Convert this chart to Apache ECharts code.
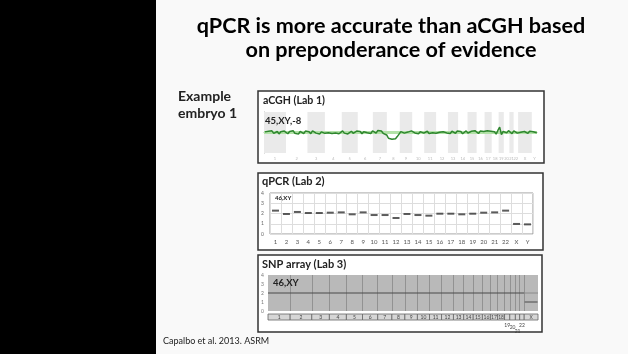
<!DOCTYPE html>
<html><head><meta charset="utf-8">
<script src="https://cdn.jsdelivr.net/npm/echarts@6/dist/echarts.min.js"></script>
<style>html,body{margin:0;padding:0;background:#f9f9f9}#c{width:628px;height:354px}</style>
</head><body><div id="c"></div>
<script>
// ---- data ----
const chrNames = ['1','2','3','4','5','6','7','8','9','10','11','12','13','14','15','16','17','18','19','20','21','22','X','Y'];
const chrSizes = [249,243,198,191,181,171,159,146,141,136,135,134,115,107,103,90,81,78,59,63,48,51,155,59];
const acghStep = 20; // Mb between aCGH probes shown
const acghValues = [
 0.03,-0.05,0.06,-0.02,0.08,-0.04,0.01,0.05,-0.07,0.04,
 -0.03,0.07,0.02,-0.06,0.05,-0.01,0.09,-0.04,0.03,-0.08,
 0.05,0.01,-0.05,0.07,-0.02,0.04,-0.06,0.08,0.02,-0.03,
 0.06,-0.07,0.03,0.05,-0.04,0.02,-0.01,0.07,-0.05,0.04,
 -0.02,0.06,-0.06,0.03,0.08,-0.03,0.05,-0.07,0.02,0.06,
 -0.04,0.03,0.07,-0.02,0.05,-0.06,0.04,0.09,-0.01,0.06,
 -0.05,0.08,0.03,-0.03,0.1,0.02,0.07,-0.04,0.05,
 -0.12,-0.28,-0.22,-0.33,-0.25,-0.3,-0.2,-0.14,
 0.04,0.07,-0.03,0.06,0.02,-0.05,0.08,0.03,-0.02,0.05,
 -0.06,0.04,0.07,-0.03,0.02,0.06,-0.05,0.03,-0.01,0.07,
 -0.04,0.05,0.01,-0.06,0.04,0.08,-0.02,0.03,-0.05,0.06,
 0.02,-0.04,0.07,-0.01,0.05,-0.06,0.03,0.08,-0.03,0.04,
 0.06,-0.02,0.09,0.03,-0.05,0.07,0.01,0.05,-0.04,0.08,
 0.02,0.06,-0.03,0.04,-0.08,0.1,0.26,-0.1,0.05,0.07,
 -0.02,0.09,0.03,-0.06,0.08,0.04,-0.03,0.06,0.01,-0.05,
 0.05,0.02,-0.04,0.06,-0.02,0.04,0.03,-0.01
];
const qpcrCategories = ['1','2','3','4','5','6','7','8','9','10','11','12','13','14','15','16','17','18','19','20','21','22','X','Y'];
const qpcrValues = [2.28,1.95,2.15,2.05,2.05,2.08,2.11,1.92,2.11,1.85,1.85,1.56,1.95,1.85,1.79,1.98,1.98,1.92,1.98,2.08,2.11,2.28,0.98,0.94];
const snpAutosomeCopy = 2;
const snpXCopy = 1;
const yTicks = ['0','1','2','3','4'];

// ---- derived ----
const starts = []; let acc = 0;
chrSizes.forEach(s => { starts.push(acc); acc += s; });
const genomeAll = acc;
const genomeNoY = genomeAll - chrSizes[23];
const acghData = acghValues.map((v, i) => [i * acghStep + 10, v]);
const bandAreas = [];
chrSizes.forEach((s, i) => { if (i % 2 === 0) bandAreas.push([{xAxis: starts[i]}, {xAxis: starts[i] + s}]); });
const acghTickData = chrNames.map((n, i) => [starts[i] + chrSizes[i] / 2, -1, n]);
const snpBounds = starts.slice(1, 23).map(x => ({xAxis: x}));
const snpBarAreas = chrNames.slice(0, 23).map((n, i) => {
  const lab = {show: true, position: 'inside', fontSize: 5, color: '#444', fontFamily: 'Lato'};
  if (i >= 18 && i <= 21) { lab.position = 'bottom'; lab.distance = [2, 4, 8, 2][i - 18]; }
  return [{xAxis: starts[i], name: n, label: lab}, {xAxis: starts[i] + chrSizes[i]}];
});

const chart = echarts.init(document.getElementById('c'), null, {renderer: 'canvas'});
const F = 'Lato';
chart.setOption({
  animation: false,
  backgroundColor: '#f9f9f9',
  graphic: [
    {type: 'rect', z: -20, shape: {x: 0, y: 0, width: 156, height: 354}, style: {fill: '#000'}},
    {type: 'rect', z: -20, shape: {x: 258, y: 91, width: 286, height: 72}, style: {fill: '#fff', stroke: '#333', lineWidth: 1.5}},
    {type: 'rect', z: -20, shape: {x: 258, y: 173, width: 285, height: 77}, style: {fill: '#fff', stroke: '#333', lineWidth: 1.5}},
    {type: 'rect', z: -20, shape: {x: 258, y: 255, width: 284, height: 77}, style: {fill: '#fff', stroke: '#333', lineWidth: 1.5}},
    {type: 'text', z: 50, style: {text: 'qPCR is more accurate than aCGH based', x: 391, y: 26.5, textAlign: 'center', textVerticalAlign: 'middle', font: 'bold 21.6px Lato', fill: '#000'}},
    {type: 'text', z: 50, style: {text: 'on preponderance of evidence', x: 391, y: 50.5, textAlign: 'center', textVerticalAlign: 'middle', font: 'bold 21.6px Lato', fill: '#000'}},
    {type: 'text', z: 50, style: {text: 'Example', x: 178, y: 96, textVerticalAlign: 'middle', font: 'bold 14px Lato', fill: '#222'}},
    {type: 'text', z: 50, style: {text: 'embryo 1', x: 178, y: 113.5, textVerticalAlign: 'middle', font: 'bold 14px Lato', fill: '#222'}},
    {type: 'text', z: 50, style: {text: 'aCGH (Lab 1)', x: 263, y: 100.5, textVerticalAlign: 'middle', font: 'bold 10.6px Lato', fill: '#222'}},
    {type: 'text', z: 50, style: {text: 'qPCR (Lab 2)', x: 262, y: 181.5, textVerticalAlign: 'middle', font: 'bold 11px Lato', fill: '#222'}},
    {type: 'text', z: 50, style: {text: 'SNP array (Lab 3)', x: 262, y: 264.5, textVerticalAlign: 'middle', font: 'bold 11px Lato', fill: '#222'}},
    {type: 'text', z: 50, style: {text: '45,XY,-8', x: 265, y: 120.5, textVerticalAlign: 'middle', font: 'bold 9.5px Lato', fill: '#222'}},
    {type: 'text', z: 50, style: {text: '46,XY', x: 275, y: 198.5, textVerticalAlign: 'middle', font: 'bold 6px Lato', fill: '#222'}},
    {type: 'text', z: 50, style: {text: '46,XY', x: 273, y: 282.5, textVerticalAlign: 'middle', font: 'bold 9.5px Lato', fill: '#222'}},
    {type: 'text', z: 50, style: {text: 'Capalbo et al. 2013. ASRM', x: 163, y: 341.5, textVerticalAlign: 'middle', font: '9px Lato', fill: '#222'}}
  ],
  grid: [
    {left: 264, top: 112, width: 273, height: 41},
    {left: 270, top: 193, width: 263, height: 41, show: true, borderColor: '#999', borderWidth: 1, backgroundColor: '#fff'},
    {left: 268, top: 275, width: 270, height: 36, show: true, borderWidth: 0, backgroundColor: '#b9b9b9'},
    {left: 268, top: 314, width: 270, height: 6}
  ],
  xAxis: [
    {gridIndex: 0, type: 'value', min: 0, max: genomeAll, axisLine: {show: true, lineStyle: {color: '#aaa'}}, axisTick: {show: false}, axisLabel: {show: false}, splitLine: {show: false}},
    {gridIndex: 1, type: 'category', data: qpcrCategories, axisLine: {show: false}, axisTick: {show: false},
     axisLabel: {fontSize: 6, color: '#555', margin: 5, fontFamily: F, interval: 0}, splitLine: {show: true, lineStyle: {color: '#ddd'}}},
    {gridIndex: 2, type: 'value', min: 0, max: genomeNoY, show: false},
    {gridIndex: 3, type: 'value', min: 0, max: genomeNoY, show: false}
  ],
  yAxis: [
    {gridIndex: 0, type: 'value', min: -1, max: 1, axisLine: {show: true, lineStyle: {color: '#aaa'}}, axisTick: {show: false}, axisLabel: {show: false}, splitLine: {show: false}},
    {gridIndex: 1, type: 'value', min: 0, max: 4, interval: 1, axisLine: {show: false}, axisTick: {show: false},
     axisLabel: {fontSize: 5, color: '#666', margin: 6, fontFamily: F, formatter: v => yTicks[v]}, splitLine: {show: true, lineStyle: {color: '#ddd'}}},
    {gridIndex: 2, type: 'value', min: 0, max: 4, interval: 1, axisLine: {show: false}, axisTick: {show: false},
     axisLabel: {fontSize: 5, color: '#777', margin: 4, fontFamily: F, formatter: v => yTicks[v]}, splitLine: {show: false}},
    {gridIndex: 3, type: 'value', min: 0, max: 1, show: false}
  ],
  series: [
    {type: 'line', xAxisIndex: 0, yAxisIndex: 0, data: acghData, symbol: 'none', lineStyle: {color: '#2e862e', width: 1.5}, z: 5,
     markArea: {silent: true, itemStyle: {color: '#eaeaea'}, data: bandAreas},
     markLine: {silent: true, symbol: 'none', label: {show: false}, lineStyle: {color: '#b3e2a8', width: 3, type: 'solid'}, data: [{yAxis: 0}]}},
    {type: 'scatter', xAxisIndex: 0, yAxisIndex: 0, data: acghTickData, symbolSize: 0,
     label: {show: true, position: 'bottom', distance: 4, fontSize: 4, color: '#aaa', fontFamily: F, formatter: p => p.data[2]}},
    {type: 'scatter', xAxisIndex: 1, yAxisIndex: 1, data: qpcrValues, symbol: 'rect', symbolSize: [7, 2], itemStyle: {color: '#333'}},
    {type: 'line', xAxisIndex: 2, yAxisIndex: 2, data: [[0, snpAutosomeCopy], [starts[22], snpAutosomeCopy]], symbol: 'none', lineStyle: {color: '#4a4a4a', width: 1.2}, z: 5,
     markLine: {silent: true, symbol: 'none', label: {show: false}, lineStyle: {color: '#929292', width: 1, type: 'solid'}, data: snpBounds}},
    {type: 'line', xAxisIndex: 2, yAxisIndex: 2, data: [[starts[22], snpAutosomeCopy], [genomeNoY, snpAutosomeCopy]], symbol: 'none', lineStyle: {color: '#8a8a8a', width: 1}, z: 4},
    {type: 'line', xAxisIndex: 2, yAxisIndex: 2, data: [[starts[22] + 5, snpXCopy], [genomeNoY - 5, snpXCopy]], symbol: 'none', lineStyle: {color: '#4a4a4a', width: 1.2}, z: 5},
    {type: 'scatter', xAxisIndex: 3, yAxisIndex: 3, data: [[0, 0.5]], symbolSize: 0,
     markArea: {silent: true, itemStyle: {color: '#d6d6d6', borderColor: '#666', borderWidth: 0.8}, data: snpBarAreas}}
  ]
});
</script></body></html>
